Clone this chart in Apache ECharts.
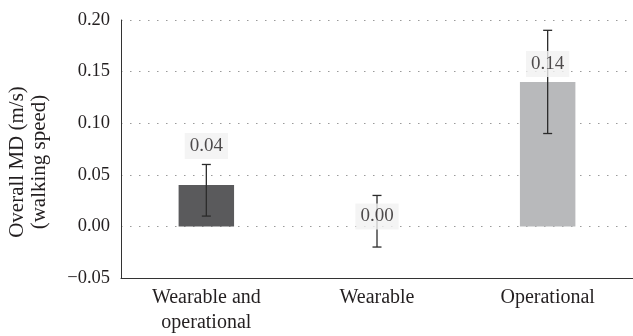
<!DOCTYPE html>
<html>
<head>
<meta charset="utf-8">
<script src="https://cdn.jsdelivr.net/npm/echarts@6/dist/echarts.min.js"></script>
<style>
  html, body { margin: 0; padding: 0; background: #fff; }
  #chart { width: 633px; height: 336px; }
</style>
</head>
<body>
<div id="chart"></div>
<script>
// Mean difference in walking speed by intervention type
const categories = ['Wearable and\noperational', 'Wearable', 'Operational'];
const meanDiff = [0.04, 0.00, 0.14];
const ciLow = [0.01, -0.02, 0.09];
const ciHigh = [0.06, 0.03, 0.19];
const barColors = ['#5a5a5c', 'rgba(0,0,0,0)', '#b8b9bb'];
const yTicks = { min: -0.05, max: 0.20, interval: 0.05 };
// vertical lift of each value label above its bar top (px)
const labelLift = [39, 10, 18];

const FONT = 'Liberation Serif';
const TEXT = '#231f20';

const chart = echarts.init(document.getElementById('chart'), null, { renderer: 'canvas' });

chart.setOption({
  animation: false,
  textStyle: { fontFamily: FONT, color: TEXT },
  grid: { left: 121, right: -5, top: 20, bottom: 58 },
  xAxis: {
    type: 'category',
    data: categories,
    axisLine: { show: true, onZero: false, lineStyle: { color: '#333', width: 1 } },
    axisTick: { show: false },
    axisLabel: { fontFamily: FONT, fontSize: 20, color: TEXT, lineHeight: 25, margin: 7 },
    splitLine: { show: false }
  },
  yAxis: {
    type: 'value',
    min: yTicks.min,
    max: yTicks.max,
    interval: yTicks.interval,
    axisLine: { show: true, lineStyle: { color: '#333', width: 1 } },
    axisTick: { show: false },
    axisLabel: {
      fontFamily: FONT, fontSize: 18.5, color: TEXT, margin: 11,
      formatter: v => (v < 0 ? '\u2212' + Math.abs(v).toFixed(2) : v.toFixed(2))
    },
    splitLine: {
      show: true,
      lineStyle: { color: '#9a9a9a', width: 1.2, type: [1.5, 7.5] }
    }
  },
  graphic: [{
    type: 'text',
    x: 28,
    y: 162,
    rotation: Math.PI / 2,
    style: {
      text: 'Overall MD (m/s)\n(walking speed)',
      font: '21px "' + FONT + '"',
      fill: TEXT,
      textAlign: 'center',
      textVerticalAlign: 'middle',
      lineHeight: 22
    }
  }],
  series: [
    {
      type: 'bar',
      data: meanDiff.map((v, i) => ({ value: v, itemStyle: { color: barColors[i] } })),
      barWidth: '32.5%',
      z: 2
    },
    {
      type: 'custom',
      z: 5,
      data: categories.map((c, i) => [i, ciLow[i], ciHigh[i]]),
      renderItem: function (params, api) {
        const lo = api.coord([api.value(0), api.value(1)]);
        const hi = api.coord([api.value(0), api.value(2)]);
        const cap = 4.5;
        const style = { stroke: '#2b2b2b', lineWidth: 1.3 };
        return {
          type: 'group',
          children: [
            { type: 'line', shape: { x1: hi[0], y1: hi[1], x2: lo[0], y2: lo[1] }, style },
            { type: 'line', shape: { x1: hi[0] - cap, y1: hi[1], x2: hi[0] + cap, y2: hi[1] }, style },
            { type: 'line', shape: { x1: lo[0] - cap, y1: lo[1], x2: lo[0] + cap, y2: lo[1] }, style }
          ]
        };
      }
    },
    {
      type: 'scatter',
      z: 10,
      symbolSize: 0,
      silent: true,
      data: meanDiff.map((v, i) => ({
        value: [i, v],
        label: { offset: [0, -labelLift[i]] }
      })),
      label: {
        show: true,
        position: 'inside',
        formatter: p => p.value[1].toFixed(2),
        fontFamily: FONT,
        fontSize: 19,
        color: TEXT,
        backgroundColor: '#f1f1f1',
        padding: [4, 5, 3, 5]
      }
    }
  ]
});
</script>
</body>
</html>
